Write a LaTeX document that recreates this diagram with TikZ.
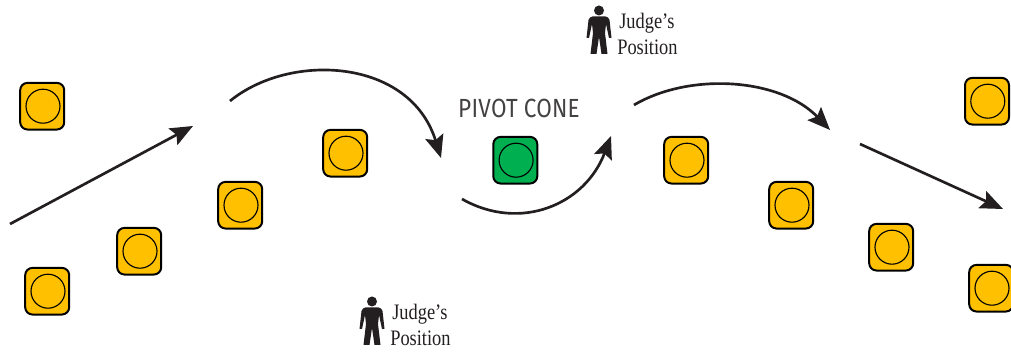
\documentclass[tikz,border=0pt]{standalone}
\usepackage{fontspec}
\setmainfont{Liberation Serif}
\newfontfamily\conefont{Fira Sans}
\usetikzlibrary{arrows.meta}
\definecolor{coney}{RGB}{255,192,0}
\definecolor{coneg}{RGB}{0,176,80}
\definecolor{inkk}{RGB}{35,31,32}
\tikzset{
  x=0.75pt,y=-0.75pt,
  conebox/.style={draw=black,line width=1.5pt,rounded corners=5.5pt,minimum width=33pt,minimum height=35pt,inner sep=0pt,fill=coney},
  greenbox/.style={conebox,fill=coneg},
  runarrow/.style={draw=inkk,line width=2pt,-{Stealth[length=17pt,width=14pt,inset=3pt]}},
  judgetxt/.style={inner sep=0pt,font=\fontsize{13.8pt}{16pt}\selectfont,text=inkk,anchor=base west},
  pics/judge/.style={code={
    \fill[inkk] (0,4.5) circle (5);
    \fill[inkk] (-6.5,10.5) -- (6.5,10.5) to[out=0,in=110] (10.5,14) -- (12.5,32) -- (10,32) -- (7,18) -- (6,27) -- (8.5,48) -- (2.5,48) -- (0,31) -- (-2.5,48) -- (-8.5,48) -- (-6,27) -- (-7,18) -- (-10,32) -- (-12.5,32) -- (-10.5,14) to[out=70,in=180] cycle;
  }}
}
\newcommand{\conemark}[1]{\draw[black,line width=0.85pt] ([shift={(0.8,0)}]#1) circle (17);}
\newcommand{\tallword}[1]{\scalebox{1}[1.2]{#1}}
\begin{document}
\begin{tikzpicture}
\useasboundingbox (0,0) rectangle (1011,352);
\foreach \n/\x/\y in {a/42.2/106.2,b/47.2/291.2,c/139.2/251.2,d/240.2/205.2,e/345.2/153.2,f/686.2/160.2,g/791.2/205.2,h/891.2/247.2,i/987/101.2,j/991.2/288.2}{
  \node[conebox] (\n) at (\x,\y) {};
  \conemark{\n}
}
\node[greenbox] (p) at (515.3,160.2) {};
\conemark{p}
\node[inner sep=0pt,text=inkk!85] (pl) at (519,108.5) {\scalebox{1.03}[1.2]{\conefont\fontsize{16.4pt}{18pt}\selectfont\addfontfeature{LetterSpace=1}PIVOT CONE}};
\pic at (599,6) {judge};
\pic at (372,297) {judge};
\node[judgetxt] (j1) at (619,29) {\tallword{Judge’s}};
\node[judgetxt] (j2) at (617,54.5) {\tallword{Position}};
\node[judgetxt] (j3) at (392,320) {\tallword{Judge’s}};
\node[judgetxt] (j4) at (390,345.5) {\tallword{Position}};
\coordinate (s1) at (10,224); \coordinate (t1) at (193,126);
\coordinate (s2) at (230,101); \coordinate (t2) at (441,158);
\coordinate (s3) at (462,199); \coordinate (t3) at (611,136);
\coordinate (s4) at (634,105); \coordinate (t4) at (830,130);
\coordinate (s5) at (860,144); \coordinate (t5) at (1003,209);
\draw[runarrow] (s1) -- (t1);
\draw[runarrow] (s2) .. controls (290,52) and (410,58) .. (t2);
\draw[runarrow] (s3) .. controls (520,232) and (585,205) .. (t3);
\draw[runarrow] (s4) .. controls (690,72) and (780,78) .. (t4);
\draw[runarrow] (s5) -- (t5);
\end{tikzpicture}
\end{document}
